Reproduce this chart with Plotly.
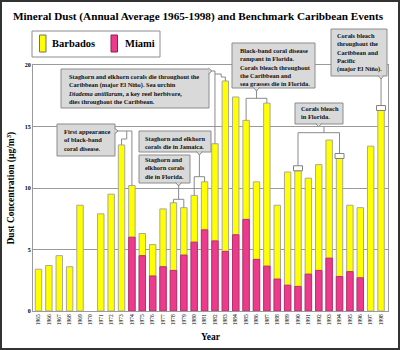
import plotly.graph_objects as go

# ---------------- data ----------------
years = list(range(1965, 1999))
barbados = [3.4, 3.7, 4.5, 3.6, 8.6, None, 7.9, 9.5, 13.5, 10.2,
            6.3, 5.4, 8.3, 8.8, 8.4, 9.4, 10.5, 13.6, 18.7, 17.4,
            15.5, 10.5, 16.9, 8.6, 11.3, 11.4, 10.8, 11.9, 13.9, 12.4,
            8.6, 8.4, 13.4, 16.3]
miami = [None] * 9 + [6.0, 4.5, 2.85, 3.6, 3.3, 4.55, 5.6, 6.6, 5.7, 4.85,
                      6.2, 7.45, 4.2, 3.65, 2.6, 2.1, 2.0, 3.0, 3.3, 4.3,
                      2.8, 3.2, 2.7, None, None]
year_labels = [str(y) for y in years]
y_ticks = [0, 5, 10, 15, 20]
y_ticktext = ["<b>%d</b>" % v for v in y_ticks]

title_text = "Mineral Dust (Annual Average 1965-1998) and Benchmark Caribbean Events"
series_names = ["Barbados", "Miami"]

events = [
    ["First appearance", "of black-band", "coral disease."],
    ["Staghorn and elkhorn corals die throughout the",
     "Caribbean (major El Niño). Sea urchin",
     "<i>Diadema antillarum</i>, a key reef herbivore,",
     "dies throughout the Caribbean."],
    ["Staghorn and elkhorn", "corals die in Jamaica."],
    ["Staghorn and", "elkhorn corals", "die in Florida."],
    ["Black-band coral disease", "rampant in Florida.", "Corals bleach throughout",
     "the Caribbean and", "sea grasses die in Florida."],
    ["Corals bleach", "throughout the", "Caribbean and", "Pacific", "(major El Niño)."],
    ["Corals bleach", "in Florida."],
]
event_years = [[1973, 1974], [1982, 1983], [1980, 1981], [1978, 1979],
               [1985, 1987], [1998], [1990, 1994]]
capped_years = [1990, 1994, 1998]

# ---------------- geometry ----------------
W, H = 400, 350
L, R, T, B = 33, 12, 65, 39
PW, PH = W - L - R, H - T - B
XR = [1964.47, 1998.67]
YR = [0, 20]
FONT = "Liberation Serif, Times New Roman, serif"
GRID = "#9a9a9a"
LEAD = "#8a8a8a"
BOXFILL = "#d9d9d9"
BOXLINE = "#8c8c8c"


def px2p(px):
    return (px - L) / PW


def py2p(py):
    return (T + PH - py) / PH


def yr2p(year):
    return (year - XR[0]) / (XR[1] - XR[0])


def v2p(v):
    return (v - YR[0]) / (YR[1] - YR[0])


def top(year):
    return v2p(barbados[years.index(year)])


CAP_H = 5 / PH  # cap height in paper units
CAP_HALF = 4.5 / PW


def path(pts):
    return "M " + " L ".join("%.5f,%.5f" % p for p in pts)


fig = go.Figure()
fig.add_bar(x=years, y=barbados, name=series_names[0], width=0.62,
            marker=dict(color="#ffff00", line=dict(color="#a8a8a0", width=1)))
fig.add_bar(x=years, y=miami, name=series_names[1], width=0.62,
            marker=dict(color="#ec3a8c", line=dict(color="#b8306e", width=1)))

shapes = []
annotations = []

# outer frame
shapes.append(dict(type="rect", xref="paper", yref="paper",
                   x0=px2p(1), x1=px2p(399), y0=py2p(1), y1=py2p(349),
                   line=dict(color="#333333", width=2), fillcolor="rgba(0,0,0,0)"))

# legend
shapes.append(dict(type="rect", xref="paper", yref="paper",
                   x0=px2p(32), x1=px2p(160), y0=py2p(31), y1=py2p(57),
                   line=dict(color="#8c8c8c", width=1), fillcolor="white"))
for (sx, col, lc, name, tx) in [(39.5, "#ffff00", "#707070", series_names[0], 50),
                                (111, "#ec3a8c", "#8a2050", series_names[1], 123)]:
    shapes.append(dict(type="rect", xref="paper", yref="paper",
                       x0=px2p(sx), x1=px2p(sx + 6.5), y0=py2p(35), y1=py2p(52),
                       line=dict(color=lc, width=1), fillcolor=col))
    annotations.append(dict(xref="paper", yref="paper", x=px2p(tx), y=py2p(44),
                            xanchor="left", yanchor="middle", showarrow=False,
                            text="<b>%s</b>" % name,
                            font=dict(family=FONT, size=10.5, color="black")))

# ---------------- leader lines ----------------
lead_paths = []
# 1: first appearance -> 1973 & 1974
lead_paths.append([(px2p(116), py2p(131)), (yr2p(1974), py2p(131)), (yr2p(1974), top(1974))])
lead_paths.append([(yr2p(1973.5), py2p(131)), (yr2p(1973.5), py2p(139)),
                   (yr2p(1973), py2p(139)), (yr2p(1973), top(1973))])
# 2: throughout the Caribbean -> 1982 & 1983
lead_paths.append([(px2p(212), py2p(71)), (yr2p(1982), py2p(71)), (yr2p(1982), top(1982))])
lead_paths.append([(yr2p(1982), py2p(74)), (yr2p(1982.6), py2p(74)),
                   (yr2p(1982.6), py2p(77)), (yr2p(1983), py2p(77)), (yr2p(1983), top(1983))])
# 3: Jamaica -> 1980 & 1981
lead_paths.append([(yr2p(1980.5), py2p(154)), (yr2p(1980.5), py2p(176.7))])
lead_paths.append([(yr2p(1980), top(1980)), (yr2p(1980), py2p(176.7)),
                   (yr2p(1981), py2p(176.7)), (yr2p(1981), top(1981))])
# 4: Florida -> 1978 & 1979
lead_paths.append([(yr2p(1978.5), py2p(185)), (yr2p(1978.5), py2p(199.3))])
lead_paths.append([(yr2p(1978), top(1978)), (yr2p(1978), py2p(199.3)),
                   (yr2p(1979), py2p(199.3)), (yr2p(1979), top(1979))])
# 5: black-band rampant -> 1985 & 1987
lead_paths.append([(yr2p(1986), py2p(90)), (yr2p(1986), py2p(98.3))])
lead_paths.append([(yr2p(1985), top(1985)), (yr2p(1985), py2p(98.3)),
                   (yr2p(1987), py2p(98.3)), (yr2p(1987), top(1987))])
# 6: Caribbean and Pacific -> 1998
lead_paths.append([(yr2p(1998), py2p(78)), (yr2p(1998), top(1998) + CAP_H)])
# 7: bleach in Florida -> 1990 & 1994
lead_paths.append([(yr2p(1992.5), py2p(126)), (yr2p(1992.5), py2p(132.7))])
lead_paths.append([(yr2p(1990), top(1990) + CAP_H), (yr2p(1990), py2p(132.7)),
                   (yr2p(1994), py2p(132.7)), (yr2p(1994), top(1994) + CAP_H)])

for pts in lead_paths:
    shapes.append(dict(type="path", xref="paper", yref="paper", path=path(pts),
                       line=dict(color=LEAD, width=1)))

for yy in capped_years:
    shapes.append(dict(type="rect", xref="paper", yref="paper",
                       x0=yr2p(yy) - CAP_HALF, x1=yr2p(yy) + CAP_HALF,
                       y0=top(yy), y1=top(yy) + CAP_H,
                       line=dict(color="#808080", width=1), fillcolor="white"))

# ---------------- event boxes ----------------
# (x0, y0, x1, y1) pixel rect, text x, text centre y, tail (side, pos)
box_geo = [
    ((57, 124, 115, 156), 61.5, 139.5, ("right", 131)),
    ((61, 69, 209, 108), 66, 88.5, ("right", 71)),
    ((139, 131, 211, 152), 143.3, 142.5, ("bottom", 199.4)),
    ((139, 155, 190, 183), 143.3, 168.3, ("bottom", 178.6)),
    ((232, 43, 315, 88), 238, 67, ("bottom", 256.5)),
    ((331, 29, 387, 76), 335, 52.8, ("bottom", 381)),
    ((295, 103, 343, 124), 299.3, 112.5, ("bottom", 318.7)),
]
for lines, ((x0, y0, x1, y1), tx, ty, (side, pos)) in zip(events, box_geo):
    shapes.append(dict(type="rect", xref="paper", yref="paper",
                       x0=px2p(x0), x1=px2p(x1), y0=py2p(y0), y1=py2p(y1),
                       line=dict(color=BOXLINE, width=1), fillcolor=BOXFILL))
    if side == "bottom":
        pts = [(px2p(pos - 3), py2p(y1 - 0.6)), (px2p(pos), py2p(y1 + 3)),
               (px2p(pos + 3), py2p(y1 - 0.6))]
    else:
        pts = [(px2p(x1 - 0.6), py2p(pos - 3)), (px2p(x1 + 3), py2p(pos)),
               (px2p(x1 - 0.6), py2p(pos + 3))]
    shapes.append(dict(type="path", xref="paper", yref="paper", path=path(pts),
                       line=dict(color=BOXLINE, width=1), fillcolor=BOXFILL))
    annotations.append(dict(xref="paper", yref="paper", x=px2p(tx), y=py2p(ty),
                            xanchor="left", yanchor="middle", align="left",
                            showarrow=False,
                            text="<br>".join("<b>%s</b>" % s for s in lines),
                            font=dict(family=FONT, size=6.4, color="#111111")))

# axis titles
annotations.append(dict(xref="paper", yref="paper", x=px2p(10.5), y=py2p(188),
                        xanchor="center", yanchor="middle", showarrow=False,
                        textangle=-90,
                        text="<b>Dust Concentration (µg/m<sup>3</sup>)</b>",
                        font=dict(family=FONT, size=9.5, color="black")))
annotations.append(dict(xref="paper", yref="paper", x=px2p(210.5), y=py2p(336.5),
                        xanchor="center", yanchor="middle", showarrow=False,
                        text="<b>Year</b>",
                        font=dict(family=FONT, size=9.5, color="black")))

fig.update_layout(
    width=W, height=H,
    margin=dict(l=L, r=R, t=T, b=B, pad=0),
    paper_bgcolor="white", plot_bgcolor="white",
    barmode="overlay", showlegend=False,
    title=dict(text="<b>%s</b>" % title_text, x=198 / W, xref="container",
               y=1 - 16.5 / H, yref="container", xanchor="center", yanchor="middle",
               font=dict(family=FONT, size=11.2, color="black")),
    xaxis=dict(range=XR, tickmode="array", tickvals=years, ticktext=year_labels,
               tickangle=-90, tickfont=dict(family=FONT, size=5.5, color="black"),
               showgrid=False, showline=True, linecolor=GRID, linewidth=1, mirror=True,
               ticks="", zeroline=False, automargin=False),
    yaxis=dict(range=YR, tickmode="array", tickvals=y_ticks, ticktext=y_ticktext,
               tickfont=dict(family=FONT, size=6, color="black"),
               showgrid=True, gridcolor=GRID, gridwidth=1,
               showline=True, linecolor=GRID, linewidth=1, mirror=True,
               ticks="", zeroline=False, automargin=False),
    shapes=shapes, annotations=annotations,
)

fig.write_html("out.html")
